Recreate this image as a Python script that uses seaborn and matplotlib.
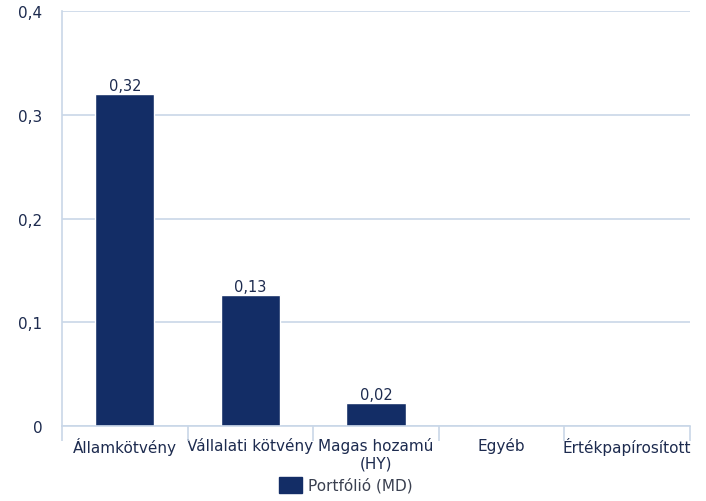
import matplotlib
matplotlib.use("Agg")
import matplotlib.pyplot as plt
import seaborn as sns
import numpy as np
from matplotlib.patches import Patch

categories = ["Államkötvény", "Vállalati kötvény", "Magas hozamú\n(HY)", "Egyéb", "Értékpapírosított"]
values = [0.32, 0.126, 0.022, 0.0, 0.0]
yticks = [0, 0.1, 0.2, 0.3, 0.4]
series_name = "Portfólió (MD)"

bar_color = "#132d66"
grid_color = "#c9d7e8"
text_color = "#1d2b4f"

sns.set_style("white")
plt.rcParams["font.family"] = ["DejaVu Sans"]

fig = plt.figure(figsize=(7.06, 5.02), dpi=100)
ax = fig.add_axes([62 / 706, 1 - 427 / 502, 628 / 706, 415 / 502])

sns.barplot(x=categories, y=values, color=bar_color, width=0.47, saturation=1, ax=ax)

for c in ax.containers:
    labels = [f"{v:.2f}".replace(".", ",") if v > 0 else "" for v in c.datavalues]
    ax.bar_label(c, labels=labels, padding=1, fontsize=10.5, color=text_color)

ax.set_ylim(0, 0.4)
ax.set_xlim(-0.5, len(categories) - 0.5)
ax.set_yticks(yticks)
ax.set_yticklabels(["0" if t == 0 else f"{t:.1f}".replace(".", ",") for t in yticks])
ax.yaxis.grid(True, color=grid_color, linewidth=1.2)
ax.set_axisbelow(True)
ax.tick_params(axis="y", length=0, pad=14, labelsize=11, labelcolor=text_color)
ax.tick_params(axis="x", which="major", length=0, pad=8, labelsize=11, labelcolor=text_color)
ax.set_xticks(np.arange(-0.5, len(categories)), minor=True)
ax.tick_params(axis="x", which="minor", bottom=True, length=11, width=1.2, color=grid_color)
ax.set_xlabel("")
ax.set_ylabel("")

for s in ["top", "right"]:
    ax.spines[s].set_visible(False)
for s in ["left", "bottom"]:
    ax.spines[s].set_color(grid_color)
    ax.spines[s].set_linewidth(1.2)

fig.legend(handles=[Patch(color=bar_color, label=series_name)], loc="center",
           bbox_to_anchor=(0.49, 0.032), frameon=False, fontsize=11,
           handlelength=1.5, handleheight=1.2, handletextpad=0.4,
           labelcolor="#3a4050")

fig.savefig("out.png", dpi=100)
